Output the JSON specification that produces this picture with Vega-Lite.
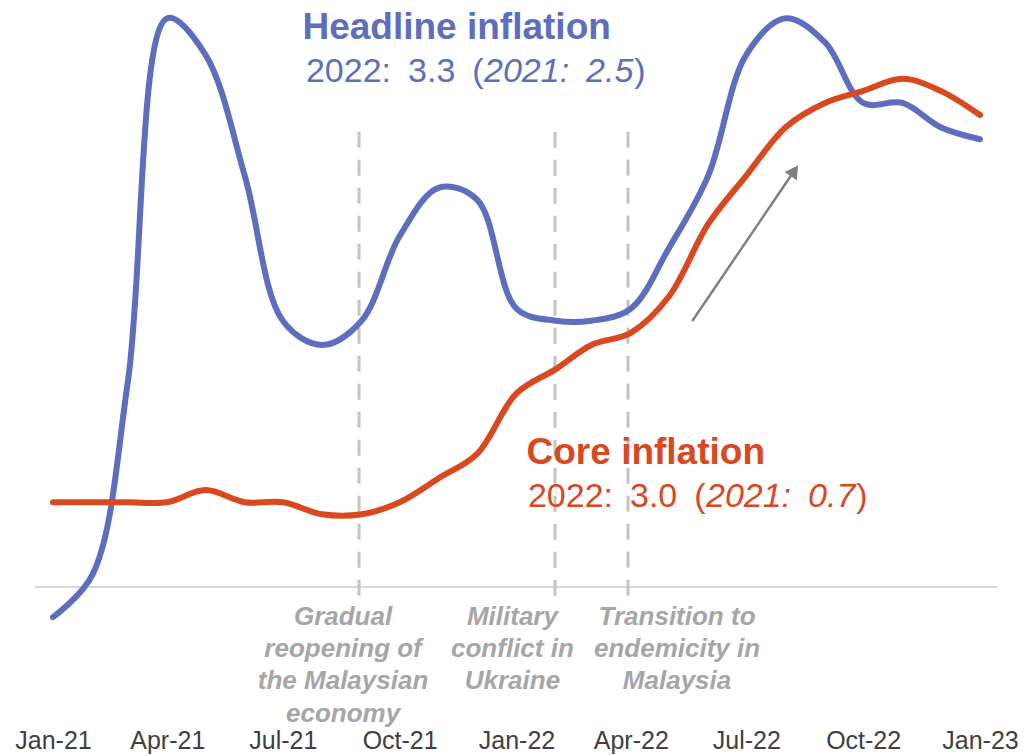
{
  "$schema": "https://vega.github.io/schema/vega-lite/v6.json",
  "width": 1025,
  "height": 720,
  "autosize": {"type": "none"},
  "padding": {"left": 0, "right": 0, "top": 0, "bottom": 36},
  "background": "#ffffff",
  "config": {"view": {"stroke": null}, "font": "Liberation Sans",
    "axisX": {"domain": false, "ticks": false, "grid": false, "labelPadding": 8, "labelFont": "Liberation Sans", "labelFontSize": 25, "labelColor": "#404040", "labelFlush": false, "labelOverlap": false}},
  "data": {
    "values": [
      {"month": "2021-01-01", "series": "Headline", "value": -0.25},
      {"month": "2021-02-01", "series": "Headline", "value": 0.1},
      {"month": "2021-03-01", "series": "Headline", "value": 1.7},
      {"month": "2021-04-01", "series": "Headline", "value": 4.7},
      {"month": "2021-05-01", "series": "Headline", "value": 4.4},
      {"month": "2021-06-01", "series": "Headline", "value": 3.4},
      {"month": "2021-07-01", "series": "Headline", "value": 2.2},
      {"month": "2021-08-01", "series": "Headline", "value": 2.0},
      {"month": "2021-09-01", "series": "Headline", "value": 2.2},
      {"month": "2021-10-01", "series": "Headline", "value": 2.9},
      {"month": "2021-11-01", "series": "Headline", "value": 3.3},
      {"month": "2021-12-01", "series": "Headline", "value": 3.2},
      {"month": "2022-01-01", "series": "Headline", "value": 2.3},
      {"month": "2022-02-01", "series": "Headline", "value": 2.2},
      {"month": "2022-03-01", "series": "Headline", "value": 2.2},
      {"month": "2022-04-01", "series": "Headline", "value": 2.3},
      {"month": "2022-05-01", "series": "Headline", "value": 2.8},
      {"month": "2022-06-01", "series": "Headline", "value": 3.4},
      {"month": "2022-07-01", "series": "Headline", "value": 4.4},
      {"month": "2022-08-01", "series": "Headline", "value": 4.7},
      {"month": "2022-09-01", "series": "Headline", "value": 4.5},
      {"month": "2022-10-01", "series": "Headline", "value": 4.0},
      {"month": "2022-11-01", "series": "Headline", "value": 4.0},
      {"month": "2022-12-01", "series": "Headline", "value": 3.8},
      {"month": "2023-01-01", "series": "Headline", "value": 3.7},
      {"month": "2021-01-01", "series": "Core", "value": 0.7},
      {"month": "2021-02-01", "series": "Core", "value": 0.7},
      {"month": "2021-03-01", "series": "Core", "value": 0.7},
      {"month": "2021-04-01", "series": "Core", "value": 0.7},
      {"month": "2021-05-01", "series": "Core", "value": 0.8},
      {"month": "2021-06-01", "series": "Core", "value": 0.7},
      {"month": "2021-07-01", "series": "Core", "value": 0.7},
      {"month": "2021-08-01", "series": "Core", "value": 0.6},
      {"month": "2021-09-01", "series": "Core", "value": 0.6},
      {"month": "2021-10-01", "series": "Core", "value": 0.7},
      {"month": "2021-11-01", "series": "Core", "value": 0.9},
      {"month": "2021-12-01", "series": "Core", "value": 1.1},
      {"month": "2022-01-01", "series": "Core", "value": 1.6},
      {"month": "2022-02-01", "series": "Core", "value": 1.8},
      {"month": "2022-03-01", "series": "Core", "value": 2.0},
      {"month": "2022-04-01", "series": "Core", "value": 2.1},
      {"month": "2022-05-01", "series": "Core", "value": 2.4},
      {"month": "2022-06-01", "series": "Core", "value": 3.0},
      {"month": "2022-07-01", "series": "Core", "value": 3.4},
      {"month": "2022-08-01", "series": "Core", "value": 3.8},
      {"month": "2022-09-01", "series": "Core", "value": 4.0},
      {"month": "2022-10-01", "series": "Core", "value": 4.1},
      {"month": "2022-11-01", "series": "Core", "value": 4.2},
      {"month": "2022-12-01", "series": "Core", "value": 4.1},
      {"month": "2023-01-01", "series": "Core", "value": 3.9}
    ]
  },
  "layer": [
    {
      "data": {"values": [{}]},
      "mark": {"type": "rule", "color": "#D9D9D9", "strokeWidth": 2},
      "encoding": {
        "x": {"datum": {"year": 2020, "month": 12, "date": 17, "hours": 20, "utc": true}, "type": "temporal", "scale": {"type": "utc", "domain": [1605853200000, 1675593200000], "nice": false}, "axis": {"title": null, "format": "%b-%y", "tickCount": {"interval": "month", "step": 3}}},
        "x2": {"datum": {"year": 2023, "month": 1, "date": 15, "hours": 4, "utc": true}},
        "y": {"datum": 0, "type": "quantitative", "scale": {"domain": [-1.1, 4.851], "nice": false, "zero": false}, "axis": null}
      }
    },
    {
      "data": {"values": [{"event": "2021-08-30T00:00:00Z"}, {"event": "2022-01-31T07:00:00Z"}, {"event": "2022-03-29T19:00:00Z"}]},
      "mark": {"type": "rule", "color": "#C4C4C4", "strokeWidth": 3, "strokeDash": [16, 12]},
      "encoding": {
        "x": {"field": "event", "type": "temporal", "scale": {"type": "utc", "domain": [1605853200000, 1675593200000], "nice": false}, "axis": {"title": null, "format": "%b-%y", "tickCount": {"interval": "month", "step": 3}}},
        "y": {"datum": 3.763, "type": "quantitative", "scale": {"domain": [-1.1, 4.851], "nice": false, "zero": false}, "axis": null},
        "y2": {"datum": -0.08}
      }
    },
    {
      "transform": [{"filter": "datum.series === 'Headline'"}],
      "mark": {"type": "line", "color": "#5D6EBF", "strokeWidth": 6, "strokeCap": "round", "strokeJoin": "round", "interpolate": "catmull-rom"},
      "encoding": {
        "x": {"field": "month", "type": "temporal", "scale": {"type": "utc", "domain": [1605853200000, 1675593200000], "nice": false}, "axis": {"title": null, "format": "%b-%y", "tickCount": {"interval": "month", "step": 3}}},
        "y": {"field": "value", "type": "quantitative", "scale": {"domain": [-1.1, 4.851], "nice": false, "zero": false}, "axis": null}
      }
    },
    {
      "transform": [{"filter": "datum.series === 'Core'"}],
      "mark": {"type": "line", "color": "#D9481F", "strokeWidth": 6, "strokeCap": "round", "strokeJoin": "round", "interpolate": "catmull-rom"},
      "encoding": {
        "x": {"field": "month", "type": "temporal", "scale": {"type": "utc", "domain": [1605853200000, 1675593200000], "nice": false}, "axis": {"title": null, "format": "%b-%y", "tickCount": {"interval": "month", "step": 3}}},
        "y": {"field": "value", "type": "quantitative", "scale": {"domain": [-1.1, 4.851], "nice": false, "zero": false}, "axis": null}
      }
    },
    {
      "data": {"values": [{}]},
      "mark": {"type": "rule", "color": "#808080", "strokeWidth": 2.5},
      "encoding": {
        "x": {"datum": {"year": 2022, "month": 5, "date": 19, "hours": 10, "utc": true}, "type": "temporal", "scale": {"type": "utc", "domain": [1605853200000, 1675593200000], "nice": false}, "axis": {"title": null, "format": "%b-%y", "tickCount": {"interval": "month", "step": 3}}},
        "x2": {"datum": {"year": 2022, "month": 8, "date": 7, "hours": 19, "utc": true}},
        "y": {"datum": 2.198, "type": "quantitative", "scale": {"domain": [-1.1, 4.851], "nice": false, "zero": false}, "axis": null},
        "y2": {"datum": 3.44}
      }
    },
    {
      "data": {"values": [{}]},
      "mark": {"type": "point", "shape": "triangle-up", "filled": true, "size": 220, "angle": 34, "color": "#808080", "opacity": 1},
      "encoding": {
        "x": {"datum": {"year": 2022, "month": 8, "date": 7, "hours": 19, "utc": true}, "type": "temporal", "scale": {"type": "utc", "domain": [1605853200000, 1675593200000], "nice": false}, "axis": {"title": null, "format": "%b-%y", "tickCount": {"interval": "month", "step": 3}}},
        "y": {"datum": 3.44, "type": "quantitative", "scale": {"domain": [-1.1, 4.851], "nice": false, "zero": false}, "axis": null}
      }
    },
    {
      "data": {"values": [{}]},
      "mark": {"type": "text", "text": "Headline inflation", "align": "left", "baseline": "alphabetic", "font": "Liberation Sans", "fontSize": 37, "fontWeight": "bold", "color": "#5D6EBF"},
      "encoding": {
        "x": {"datum": {"year": 2021, "month": 7, "date": 16, "hours": 11, "utc": true}, "type": "temporal", "scale": {"type": "utc", "domain": [1605853200000, 1675593200000], "nice": false}, "axis": {"title": null, "format": "%b-%y", "tickCount": {"interval": "month", "step": 3}}},
        "y": {"datum": 4.526, "type": "quantitative", "scale": {"domain": [-1.1, 4.851], "nice": false, "zero": false}, "axis": null}
      }
    },
    {
      "data": {"values": [{}]},
      "mark": {"type": "text", "text": "2022:\u20023.3\u2002(", "align": "left", "baseline": "alphabetic", "font": "Liberation Sans", "fontSize": 34, "color": "#5D6EBF"},
      "encoding": {
        "x": {"datum": {"year": 2021, "month": 7, "date": 19, "hours": 5, "utc": true}, "type": "temporal", "scale": {"type": "utc", "domain": [1605853200000, 1675593200000], "nice": false}, "axis": {"title": null, "format": "%b-%y", "tickCount": {"interval": "month", "step": 3}}},
        "y": {"datum": 4.176, "type": "quantitative", "scale": {"domain": [-1.1, 4.851], "nice": false, "zero": false}, "axis": null}
      }
    },
    {
      "data": {"values": [{}]},
      "mark": {"type": "text", "text": "2021:\u20022.5", "align": "left", "baseline": "alphabetic", "font": "Liberation Sans", "fontSize": 34, "fontStyle": "italic", "color": "#5D6EBF"},
      "encoding": {
        "x": {"datum": {"year": 2021, "month": 12, "date": 6, "hours": 10, "utc": true}, "type": "temporal", "scale": {"type": "utc", "domain": [1605853200000, 1675593200000], "nice": false}, "axis": {"title": null, "format": "%b-%y", "tickCount": {"interval": "month", "step": 3}}},
        "y": {"datum": 4.176, "type": "quantitative", "scale": {"domain": [-1.1, 4.851], "nice": false, "zero": false}, "axis": null}
      }
    },
    {
      "data": {"values": [{}]},
      "mark": {"type": "text", "text": ")", "align": "left", "baseline": "alphabetic", "font": "Liberation Sans", "fontSize": 34, "color": "#5D6EBF"},
      "encoding": {
        "x": {"datum": {"year": 2022, "month": 4, "date": 3, "hours": 18, "utc": true}, "type": "temporal", "scale": {"type": "utc", "domain": [1605853200000, 1675593200000], "nice": false}, "axis": {"title": null, "format": "%b-%y", "tickCount": {"interval": "month", "step": 3}}},
        "y": {"datum": 4.176, "type": "quantitative", "scale": {"domain": [-1.1, 4.851], "nice": false, "zero": false}, "axis": null}
      }
    },
    {
      "data": {"values": [{}]},
      "mark": {"type": "text", "text": "Core inflation", "align": "left", "baseline": "alphabetic", "font": "Liberation Sans", "fontSize": 37, "fontWeight": "bold", "color": "#D9481F"},
      "encoding": {
        "x": {"datum": {"year": 2022, "month": 1, "date": 8, "hours": 22, "utc": true}, "type": "temporal", "scale": {"type": "utc", "domain": [1605853200000, 1675593200000], "nice": false}, "axis": {"title": null, "format": "%b-%y", "tickCount": {"interval": "month", "step": 3}}},
        "y": {"datum": 1.012, "type": "quantitative", "scale": {"domain": [-1.1, 4.851], "nice": false, "zero": false}, "axis": null}
      }
    },
    {
      "data": {"values": [{}]},
      "mark": {"type": "text", "text": "2022:\u20023.0\u2002(", "align": "left", "baseline": "alphabetic", "font": "Liberation Sans", "fontSize": 34, "color": "#D9481F"},
      "encoding": {
        "x": {"datum": {"year": 2022, "month": 1, "date": 10, "hours": 0, "utc": true}, "type": "temporal", "scale": {"type": "utc", "domain": [1605853200000, 1675593200000], "nice": false}, "axis": {"title": null, "format": "%b-%y", "tickCount": {"interval": "month", "step": 3}}},
        "y": {"datum": 0.661, "type": "quantitative", "scale": {"domain": [-1.1, 4.851], "nice": false, "zero": false}, "axis": null}
      }
    },
    {
      "data": {"values": [{}]},
      "mark": {"type": "text", "text": "2021:\u20020.7", "align": "left", "baseline": "alphabetic", "font": "Liberation Sans", "fontSize": 34, "fontStyle": "italic", "color": "#D9481F"},
      "encoding": {
        "x": {"datum": {"year": 2022, "month": 5, "date": 30, "hours": 5, "utc": true}, "type": "temporal", "scale": {"type": "utc", "domain": [1605853200000, 1675593200000], "nice": false}, "axis": {"title": null, "format": "%b-%y", "tickCount": {"interval": "month", "step": 3}}},
        "y": {"datum": 0.661, "type": "quantitative", "scale": {"domain": [-1.1, 4.851], "nice": false, "zero": false}, "axis": null}
      }
    },
    {
      "data": {"values": [{}]},
      "mark": {"type": "text", "text": ")", "align": "left", "baseline": "alphabetic", "font": "Liberation Sans", "fontSize": 34, "color": "#D9481F"},
      "encoding": {
        "x": {"datum": {"year": 2022, "month": 9, "date": 25, "hours": 12, "utc": true}, "type": "temporal", "scale": {"type": "utc", "domain": [1605853200000, 1675593200000], "nice": false}, "axis": {"title": null, "format": "%b-%y", "tickCount": {"interval": "month", "step": 3}}},
        "y": {"datum": 0.661, "type": "quantitative", "scale": {"domain": [-1.1, 4.851], "nice": false, "zero": false}, "axis": null}
      }
    },
    {
      "data": {"values": [{}]},
      "mark": {"type": "text", "text": ["Gradual", "reopening of", "the Malaysian", "economy"], "align": "center", "baseline": "alphabetic", "lineHeight": 32.3, "font": "Liberation Sans", "fontSize": 26, "fontWeight": "bold", "fontStyle": "italic", "color": "#A6A6A6"},
      "encoding": {
        "x": {"datum": {"year": 2021, "month": 8, "date": 17, "hours": 10, "utc": true}, "type": "temporal", "scale": {"type": "utc", "domain": [1605853200000, 1675593200000], "nice": false}, "axis": {"title": null, "format": "%b-%y", "tickCount": {"interval": "month", "step": 3}}},
        "y": {"datum": -0.314, "type": "quantitative", "scale": {"domain": [-1.1, 4.851], "nice": false, "zero": false}, "axis": null}
      }
    },
    {
      "data": {"values": [{}]},
      "mark": {"type": "text", "text": ["Military", "conflict in", "Ukraine"], "align": "center", "baseline": "alphabetic", "lineHeight": 32.3, "font": "Liberation Sans", "fontSize": 26, "fontWeight": "bold", "fontStyle": "italic", "color": "#A6A6A6"},
      "encoding": {
        "x": {"datum": {"year": 2021, "month": 12, "date": 28, "hours": 19, "utc": true}, "type": "temporal", "scale": {"type": "utc", "domain": [1605853200000, 1675593200000], "nice": false}, "axis": {"title": null, "format": "%b-%y", "tickCount": {"interval": "month", "step": 3}}},
        "y": {"datum": -0.314, "type": "quantitative", "scale": {"domain": [-1.1, 4.851], "nice": false, "zero": false}, "axis": null}
      }
    },
    {
      "data": {"values": [{}]},
      "mark": {"type": "text", "text": ["Transition to", "endemicity in", "Malaysia"], "align": "center", "baseline": "alphabetic", "lineHeight": 32.3, "font": "Liberation Sans", "fontSize": 26, "fontWeight": "bold", "fontStyle": "italic", "color": "#A6A6A6"},
      "encoding": {
        "x": {"datum": {"year": 2022, "month": 5, "date": 7, "hours": 10, "utc": true}, "type": "temporal", "scale": {"type": "utc", "domain": [1605853200000, 1675593200000], "nice": false}, "axis": {"title": null, "format": "%b-%y", "tickCount": {"interval": "month", "step": 3}}},
        "y": {"datum": -0.314, "type": "quantitative", "scale": {"domain": [-1.1, 4.851], "nice": false, "zero": false}, "axis": null}
      }
    }
  ]
}
